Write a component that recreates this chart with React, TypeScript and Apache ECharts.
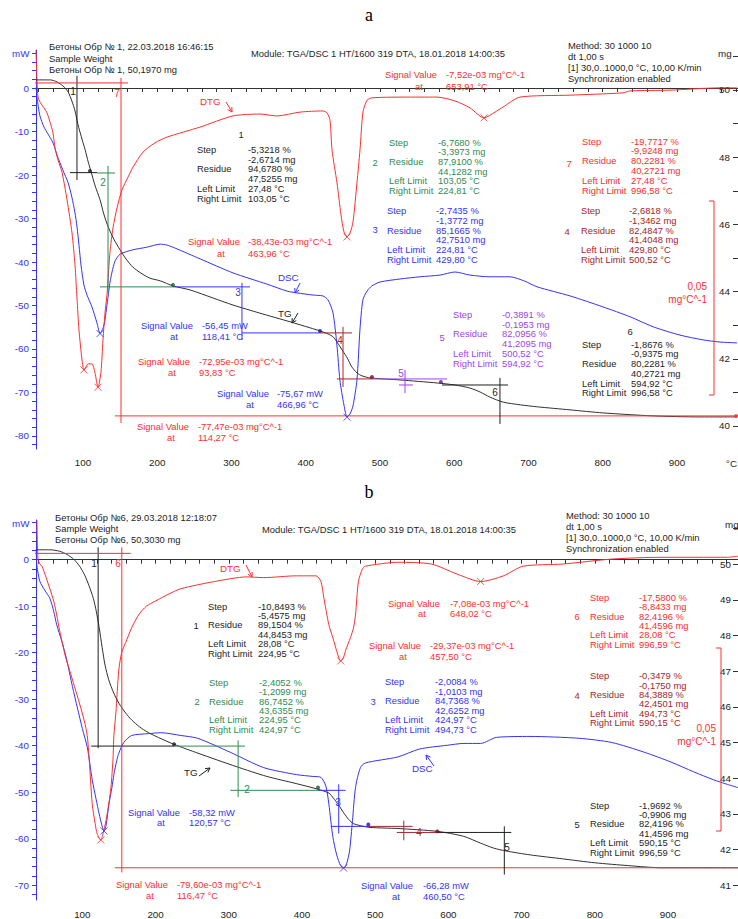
import React, { useEffect, useRef } from "react";
import * as echarts from "echarts";

type Pt = [number, number];
type Seg = [Pt, Pt];

// ---------------- DATA : panel a ----------------
const A_TG: Pt[] = [[37,50.30],[56,50.30],[65,50.24],[73,50.12],[80,49.94],[85,49.67],[89,49.40],[93,48.99],[99,48.51],[103,48.21],[107,47.86],[111,47.56],[116,47.17],[123,46.73],[128,46.31],[134,45.92],[142,45.54],[150,45.24],[158,44.97],[167,44.73],[178,44.55],[190,44.40],[204,44.32],[221,44.17],[244,44.05],[275,43.81],[302,43.60],[338,43.36],[379,43.10],[406,42.92],[419,42.83],[430,42.74],[437,42.65],[443,42.47],[450,42.23],[456,42.02],[462,41.76],[469,41.58],[476,41.49],[487,41.43],[527,41.37],[577,41.28],[601,41.22],[621,41.13],[635,41.01],[648,40.86],[666,40.71],[689,40.63],[712,40.57],[756,40.48],[800,40.39],[868,40.30],[931,40.27],[981,40.27]];
const A_DSC: Pt[] = [[37,0.2],[38,-2.1],[42,-6.4],[47.5,-9.0],[53,-10.6],[59.6,-12.6],[65,-15.4],[73,-18.9],[80,-21.8],[85,-25.1],[89,-28.5],[92,-32.0],[94.6,-36.1],[97.3,-40.7],[101.3,-45.3],[105.4,-47.6],[112,-50.3],[118.8,-54.0],[123,-56.4],[127,-55.2],[129.6,-53.3],[132.3,-49.9],[135,-46.4],[136.4,-44.6],[139.1,-42.3],[143.1,-39.8],[150,-38.2],[167,-37.2],[186,-36.6],[204,-35.9],[213,-36.1],[224,-36.8],[258,-39.3],[302,-42.5],[348,-45.1],[375,-46.7],[388,-47.1],[410,-47.6],[423,-47.8],[430,-48.7],[436.7,-51.7],[442,-59.1],[446,-67.1],[451.5,-72.9],[455.6,-75.6],[459.6,-74.9],[463.6,-73.1],[469,-67.1],[473,-55.6],[477,-48.7],[482.5,-46.7],[489,-45.5],[500,-44.6],[527,-43.9],[554,-43.4],[581,-43.0],[601,-42.3],[621,-43.0],[648,-43.4],[675,-43.4],[695,-44.4],[711.5,-45.7],[756,-47.8],[800,-50.3],[837,-52.6],[868,-54.9],[904,-56.8],[935,-57.9],[958,-58.4],[981,-58.6]];
const A_DTG: Pt[] = [[36.7,10.1],[38,2.3],[39.4,-2.1],[42.1,-3.4],[47.5,-4.9],[51.5,-6.2],[55.6,-8.6],[59.6,-11.4],[62.3,-15.3],[66.3,-18.4],[71.7,-21.6],[78.5,-28.8],[85.2,-37.4],[89.2,-45.7],[91.9,-54.3],[94.6,-62.6],[98.7,-70.4],[101.3,-73.0],[104,-72.2],[106.7,-71.4],[112.1,-71.4],[116.2,-73.8],[120.2,-77.5],[124.2,-73.5],[126.9,-65.2],[129.6,-58.2],[132.3,-53.5],[133.7,-49.6],[136.4,-42.3],[140.4,-36.1],[145.8,-30.9],[152.5,-26.2],[160.6,-22.9],[167.3,-20.3],[180.8,-16.4],[196.9,-14.0],[213.1,-12.5],[257.6,-9.9],[302,-7.0],[338.4,-6.5],[361.3,-7.0],[392.3,-6.0],[423.2,-5.7],[428.6,-6.2],[432.7,-8.1],[435.4,-15.8],[442.1,-24.4],[447.5,-32.7],[451.5,-37.1],[455.6,-38.4],[459.6,-37.4],[463.6,-34.6],[469,-24.4],[473.1,-15.8],[477.1,-6.0],[482.5,-2.9],[489.2,-2.3],[531,-2.1],[576.8,-2.1],[601,-3.1],[621.2,-4.9],[640.1,-7.5],[654.9,-6.0],[665.7,-4.7],[688.6,-2.1],[755.9,-1.6],[827.3,-1.0],[836.7,-0.5],[890.6,-0.3],[958,0.3],[981,0.3]];

const A_DSC_PEAKS: Pt[] = [[123,-56.45],[455.6,-75.67]];
const A_DTG_PEAKS: Pt[] = [[101.3,-72.95],[120.2,-77.47],[455.6,-38.43],[640.1,-7.52]];

const A_STEP1_LINES: Seg[] = [[[91.9,50.42],[91.9,47.32]],[[82.5,47.54],[118.9,47.54]]];
const A_STEP7_LINES: Seg[] = [[[24.6,50.21],[160.6,50.21]],[[151.2,50.36],[151.2,40.09]],[[143.1,40.30],[982.2,40.30]]];
const A_STEP2_LINES: Seg[] = [[[118.9,47.53],[143.1,47.53]],[[133.7,47.74],[133.7,43.96]],[[122.9,44.14],[221.2,44.14]]];
const A_STEP3_LINES: Seg[] = [[[221.2,44.14],[324.9,44.14]],[[314.1,44.26],[314.1,42.56]],[[314.1,42.77],[419.2,42.77]]];
const A_STEP4_LINES: Seg[] = [[[419.2,42.77],[462.3,42.77]],[[450.2,42.95],[450.2,41.16]],[[442.1,41.40],[489.2,41.40]]];
const A_STEP5_LINES: Seg[] = [[[489.2,41.40],[590.2,41.40]],[[533.7,41.67],[533.7,40.98]],[[525.6,41.22],[544.4,41.22]]];
const A_STEP6_LINES: Seg[] = [[[583.5,41.22],[672.4,41.22]],[[661.6,41.43],[661.6,40.06]]];
const A_STEP_DOTS: Pt[] = [[109.4,47.59],[221.2,44.20],[419.2,42.83],[489.2,41.46],[582,41.31],[979.5,40.30]];

const A_STEP1_VALUES = ["-5,3218 %","-2,6714 mg","94,6780 %","47,5255 mg","27,48 °C","103,05 °C"];
const A_STEP2_VALUES = ["-6,7680 %","-3,3973 mg","87,9100 %","44,1282 mg","103,05 °C","224,81 °C"];
const A_STEP3_VALUES = ["-2,7435 %","-1,3772 mg","85,1665 %","42,7510 mg","224,81 °C","429,80 °C"];
const A_STEP7_VALUES = ["-19,7717 %","-9,9248 mg","80,2281 %","40,2721 mg","27,48 °C","996,58 °C"];
const A_STEP4_VALUES = ["-2,6818 %","-1,3462 mg","82,4847 %","41,4048 mg","429,80 °C","500,52 °C"];
const A_STEP5_VALUES = ["-0,3891 %","-0,1953 mg","82,0956 %","41,2095 mg","500,52 °C","594,92 °C"];
const A_STEP6_VALUES = ["-1,8676 %","-0,9375 mg","80,2281 %","40,2721 mg","594,92 °C","996,58 °C"];

const A_SIGNALS = [
  ["-7,52e-03 mg°C^-1","653,91 °C"],
  ["-38,43e-03 mg°C^-1","463,96 °C"],
  ["-56,45 mW","118,41 °C"],
  ["-72,95e-03 mg°C^-1","93,83 °C"],
  ["-75,67 mW","466,96 °C"],
  ["-77,47e-03 mg°C^-1","114,27 °C"],
];
const A_HEADER = ["Бетоны Обр № 1, 22.03.2018 16:46:15","Sample Weight","Бетоны Обр № 1, 50,1970 mg"];

// ---------------- DATA : panel b ----------------
const B_TG: Pt[] = [[37,50.40],[56,50.40],[69,50.36],[79,50.27],[88,50.14],[96,49.95],[103,49.70],[109,49.40],[115,49.04],[119,48.68],[123,48.22],[127,47.67],[131,47.17],[136,46.76],[143,46.38],[150,46.10],[159,45.83],[167,45.64],[178,45.44],[190,45.28],[204,45.14],[225,44.95],[258,44.70],[311,44.32],[352,44.05],[392,43.85],[422,43.69],[437,43.58],[443,43.44],[450,43.25],[457,43.03],[464,42.84],[470,42.73],[480,42.67],[493,42.62],[531,42.59],[585,42.51],[621,42.37],[644,42.18],[662,42.04],[679,41.96],[712,41.85],[756,41.74],[800,41.63],[846,41.55],[891,41.49],[981,41.49],[996,41.49]];
const B_DSC: Pt[] = [[37,2.2],[38,-1.4],[42.1,-4.7],[48.8,-6.6],[55.6,-8.3],[60.9,-11.1],[65,-14.0],[71.7,-17.4],[78.5,-21.4],[86.5,-27.3],[93.3,-31.9],[100,-36.3],[106.7,-40.3],[113.5,-47.3],[118.8,-51.5],[122.9,-54.6],[126.9,-57.2],[129.6,-58.3],[132.3,-57.2],[136.4,-52.5],[140.4,-49.0],[143.1,-46.2],[147.1,-43.1],[149.8,-41.6],[156.6,-39.3],[167.3,-37.8],[190.2,-37.4],[207.7,-37.2],[234.7,-37.8],[257.6,-38.4],[302,-41.4],[347.8,-44.7],[392.3,-46.2],[415.2,-46.6],[425.9,-46.8],[432.7,-48.7],[436.7,-52.5],[442.1,-59.5],[447.5,-63.5],[452.9,-65.8],[456.9,-66.3],[460.9,-65.4],[465,-62.6],[469,-56.1],[473.1,-49.0],[479.8,-44.7],[486.5,-43.7],[531,-42.4],[560.6,-40.7],[598.3,-39.9],[621.2,-39.5],[644.1,-39.5],[665.7,-38.2],[711.5,-38.0],[778.8,-38.4],[823.2,-39.3],[867.7,-41.4],[904,-43.5],[935,-45.6],[961.9,-47.3],[981,-48.3],[995.6,-49.0]];
const B_DTG: Pt[] = [[38,10.2],[39.4,-0.8],[42.1,-2.2],[44.8,-2.8],[50.2,-5.8],[55.6,-9.1],[60.9,-12.6],[65,-16.5],[69,-20.9],[73.1,-24.7],[77.1,-28.3],[82.5,-31.9],[89.2,-36.5],[96,-41.2],[102.7,-46.2],[106.7,-50.3],[109.4,-57.1],[113.5,-69.5],[117.5,-75.0],[120.2,-77.8],[125.2,-79.6],[128.3,-77.8],[132.3,-74.2],[136.4,-69.0],[139.1,-64.8],[141.8,-57.1],[143.1,-50.3],[145.8,-44.0],[149.8,-31.9],[153.9,-26.9],[159.2,-24.2],[167.3,-20.1],[176.8,-16.5],[187.5,-14.0],[199.7,-12.6],[217.2,-10.7],[234.7,-9.1],[280.5,-7.1],[324.9,-5.8],[347.8,-6.0],[392.3,-5.5],[419.2,-5.5],[425.9,-7.1],[430,-11.8],[436.7,-19.2],[442.1,-22.8],[448.8,-27.5],[452.9,-29.4],[456.9,-28.3],[459.6,-26.4],[466.3,-22.8],[470.4,-20.1],[473.1,-16.5],[477.1,-7.1],[482.5,-3.6],[486.5,-2.8],[531,-1.7],[576.8,-2.2],[611.8,-5.0],[644.1,-7.1],[675.1,-5.5],[702,-2.8],[755.9,-2.2],[823.2,-0.8],[890.6,-0.3],[981,-0.3],[995.6,0]];

const B_DSC_PEAKS: Pt[] = [[129.6,-58.32],[456.9,-66.28]];
const B_DTG_PEAKS: Pt[] = [[125.2,-79.60],[452.9,-29.37],[644.1,-7.08]];

const B_STEP1_LINES: Seg[] = [[[121.6,50.47],[121.6,44.84]],[[112.1,44.90],[225.3,44.90]]];
const B_STEP6_LINES: Seg[] = [[[24.6,50.30],[166.0,50.30]],[[153.9,50.47],[153.9,41.36]],[[144.4,41.49],[995.6,41.49]]];
const B_STEP2_LINES: Seg[] = [[[225.3,44.90],[322.2,44.90]],[[312.8,45.06],[312.8,43.47]],[[302.0,43.66],[421.9,43.66]]];
const B_STEP3_LINES: Seg[] = [[[421.9,43.66],[459.6,43.66]],[[450.2,43.83],[450.2,42.45]],[[439.4,42.65],[490.6,42.65]]];
const B_STEP4_LINES: Seg[] = [[[490.6,42.65],[551.2,42.65]],[[539.1,42.81],[539.1,42.26]],[[529.6,42.48],[584.9,42.48]]];
const B_STEP5_LINES: Seg[] = [[[584.9,42.48],[685.9,42.48]],[[676.4,42.65],[676.4,41.30]]];
const B_STEP_DOTS: Pt[] = [[225.3,44.95],[421.9,43.74],[490.6,42.70],[584.9,42.51]];

const B_STEP1_VALUES = ["-10,8493 %","-5,4575 mg","89,1504 %","44,8453 mg","28,08 °C","224,95 °C"];
const B_STEP2_VALUES = ["-2,4052 %","-1,2099 mg","86,7452 %","43,6355 mg","224,95 °C","424,97 °C"];
const B_STEP3_VALUES = ["-2,0084 %","-1,0103 mg","84,7368 %","42,6252 mg","424,97 °C","494,73 °C"];
const B_STEP6_VALUES = ["-17,5800 %","-8,8433 mg","82,4196 %","41,4596 mg","28,08 °C","996,59 °C"];
const B_STEP4_VALUES = ["-0,3479 %","-0,1750 mg","84,3889 %","42,4501 mg","494,73 °C","590,15 °C"];
const B_STEP5_VALUES = ["-1,9692 %","-0,9906 mg","82,4196 %","41,4596 mg","590,15 °C","996,59 °C"];

const B_SIGNALS = [
  ["-7,08e-03 mg°C^-1","648,02 °C"],
  ["-29,37e-03 mg°C^-1","457,50 °C"],
  ["-58,32 mW","120,57 °C"],
  ["-79,60e-03 mg°C^-1","116,47 °C"],
  ["-66,28 mW","460,50 °C"],
];
const B_HEADER = ["Бетоны Обр №6, 29.03.2018 12:18:07","Sample Weight","Бетоны Обр №6, 50,3030 mg"];

const MODULE_TEXT = "Module: TGA/DSC 1 HT/1600 319 DTA, 18.01.2018 14:00:35";
const METHOD_TEXT = ["Method: 30 1000 10","dt 1,00 s","[1] 30,0..1000,0 °C, 10,00 K/min","Synchronization enabled"];
const STEP_ROW_LABELS = ["Step","","Residue","","Left Limit","Right Limit"];

const X_MAJOR = [100,200,300,400,500,600,700,800,900];
const A_MW_LABELS = [0,-10,-20,-30,-40,-50,-60,-70,-80];
const B_MW_LABELS = [0,-10,-20,-30,-40,-50,-60,-70];
const A_MG_LABELS = [40,42,44,46,48,50];
const B_MG_LABELS = [41,42,43,44,45,46,47,48,49,50];

// ---------------- STYLE ----------------
const FONT = '"Liberation Sans", Arial, sans-serif';
const FS = 9.4;
const COL = {
  black: "#1e1e1e",
  blue: "#3232ff",
  red: "#ff2e2e",
  green: "#2e8b52",
  dark: "#a3262b",
  purple: "#a03ff0",
  tg: "#303030",
};

function range(a: number, b: number, s: number) {
  const out: number[] = [];
  for (let v = a; v <= b + 1e-9; v += s) out.push(Math.round(v * 1000) / 1000);
  return out;
}

function txt(text: string, x: number, y: number, fill: string, align = "left", size = FS, family = FONT): any {
  return {
    type: "text",
    silent: true,
    x,
    y,
    z: 100,
    style: {
      text,
      x: 0,
      y: 0,
      fill,
      font: `${size}px ${family}`,
      align,
      verticalAlign: "middle",
      textAlign: align,
      textVerticalAlign: "middle",
    },
  };
}

function arrow(x1: number, y1: number, x2: number, y2: number, color: string): any[] {
  const ang = Math.atan2(y2 - y1, x2 - x1);
  const L = 5, w = 0.5;
  const p1 = [x2 - L * Math.cos(ang - w), y2 - L * Math.sin(ang - w)];
  const p2 = [x2 - L * Math.cos(ang + w), y2 - L * Math.sin(ang + w)];
  return [
    { type: "line", silent: true, z: 100, shape: { x1, y1, x2, y2 }, style: { stroke: color, lineWidth: 1 } },
    { type: "polyline", silent: true, z: 100, shape: { points: [p1, [x2, y2], p2] }, style: { stroke: color, fill: null, lineWidth: 1 } },
  ];
}

function block(num: string, values: string[], color: string, nx: number, ny: number, lx: number, vx: number, y0: number, dy: number): any[] {
  const els: any[] = [txt(num, nx, ny, color, "center")];
  STEP_ROW_LABELS.forEach((l, i) => { if (l) els.push(txt(l, lx, y0 + i * dy, color)); });
  values.forEach((v, i) => els.push(txt(v, vx, y0 + i * dy, color)));
  return els;
}

function signal(vals: string[], color: string, x1: number, x2: number, xat: number, y1: number, y2: number): any[] {
  return [
    txt("Signal Value", x1, y1, color),
    txt(vals[0], x2, y1, color),
    txt("at", xat, y2, color),
    txt(vals[1], x2, y2, color),
  ];
}

function scaleBar(x: number, yTop: number, yBot: number, tx: number, ty: number, color: string): any[] {
  return [
    { type: "polyline", silent: true, z: 100, shape: { points: [[x - 5, yTop], [x, yTop], [x, yBot], [x - 5, yBot]] }, style: { stroke: color, fill: null, lineWidth: 1 } },
    txt("0,05", tx, ty, color, "right", 10),
    txt("mg°C^-1", tx, ty + 13, color, "right", 10),
  ];
}

const X_MARK = "path://M0,0L10,10M10,0L0,10";

function buildPanel(gi: number, L: any, d: any) {
  const xAxis = {
    gridIndex: gi, type: "value", min: L.xMin, max: L.xMax,
    axisLine: { show: true, lineStyle: { color: "#333", width: 1 } },
    axisTick: { show: true, customValues: range(40, 1000, 20), length: 4, lineStyle: { color: "#333" } },
    axisLabel: { show: true, customValues: X_MAJOR, margin: L.xLabelMargin, color: "#222", fontSize: 9.8, fontFamily: FONT },
    splitLine: { show: false },
  };
  const yi = gi * 3;
  const yAxes = [
    {
      gridIndex: gi, type: "value", position: "left", min: L.mw[0], max: L.mw[1],
      axisLine: { show: true, lineStyle: { color: COL.blue, width: 1 } },
      axisTick: { show: true, customValues: range(Math.ceil(L.mw[0] / 2) * 2, L.mw[1], 2), length: 4, lineStyle: { color: COL.blue } },
      axisLabel: { show: true, customValues: d.mwLabels, margin: 7, color: COL.blue, fontSize: 9.8, fontFamily: FONT },
      splitLine: { show: false },
    },
    {
      gridIndex: gi, type: "value", position: "right", min: L.mg[0], max: L.mg[1],
      axisLine: { show: false },
      axisTick: { show: true, inside: true, customValues: range(Math.ceil(L.mg[0]), L.mg[1], 1), length: 5, lineStyle: { color: "#333" } },
      axisLabel: { show: true, inside: true, customValues: d.mgLabels, margin: L.mgLabelMargin, color: "#222", fontSize: 9.8, fontFamily: FONT },
      splitLine: { show: false },
    },
    { gridIndex: gi, type: "value", show: false, min: L.dtg[0], max: L.dtg[1], splitLine: { show: false } },
  ];
  const curve = (data: Pt[], yIdx: number, color: string, z = 3) => ({
    type: "line", xAxisIndex: gi, yAxisIndex: yi + yIdx, data, showSymbol: false, symbol: "none",
    smooth: 0.25, lineStyle: { color, width: 1 }, z, silent: true,
  });
  const series: any[] = [
    curve(d.dsc, 0, COL.blue),
    curve(d.dtg, 2, COL.red),
    curve(d.tg, 1, COL.tg, 4),
  ];
  d.steps.forEach((st: any) => {
    st.lines.forEach((seg: Seg) => {
      series.push({
        type: "line", xAxisIndex: gi, yAxisIndex: yi + 1, data: seg, showSymbol: false, symbol: "none",
        lineStyle: { color: st.color, width: 1 }, clip: false, z: 5, silent: true,
      });
    });
  });
  series.push({
    type: "scatter", xAxisIndex: gi, yAxisIndex: yi + 1, symbol: "circle", symbolSize: 4, z: 6, silent: true,
    data: d.dots.map((p: Pt, i: number) => ({ value: p, itemStyle: { color: d.dotColors[i] } })),
  });
  series.push({
    type: "scatter", xAxisIndex: gi, yAxisIndex: yi, symbol: X_MARK, symbolSize: 7, z: 7, silent: true, data: d.dscPeaks,
    itemStyle: { color: "rgba(0,0,0,0)", borderColor: COL.blue, borderWidth: 1 },
  });
  series.push({
    type: "scatter", xAxisIndex: gi, yAxisIndex: yi + 2, symbol: X_MARK, symbolSize: 7, z: 7, silent: true, data: d.dtgPeaks,
    itemStyle: { color: "rgba(0,0,0,0)", borderColor: COL.red, borderWidth: 1 },
  });
  const grid = { left: L.left, top: L.top, width: L.width, height: L.height, containLabel: false };
  return { grid, xAxis, yAxes, series };
}

const LAYOUT_A = { left: 36, top: 50, width: 702, height: 399, xMin: 36.7, xMax: 982.2, mw: [-82.99, 8.74], mg: [39.315, 51.19], dtg: [-93.51, 10.13], xLabelMargin: 8, mgLabelMargin: 8 };
const LAYOUT_B = { left: 36, top: 520, width: 712, height: 388, xMin: 36.7, xMax: 995.6, mw: [-73.16, 8.53], mg: [40.587, 51.235], dtg: [-96.43, 10.16], xLabelMargin: 9, mgLabelMargin: 7 };

export default function App() {
  const ref = useRef<HTMLDivElement>(null);
  useEffect(() => {
    if (!ref.current) return;
    const chart = echarts.init(ref.current, null, { renderer: "svg" });

    const pa = buildPanel(0, LAYOUT_A, {
      tg: A_TG, dsc: A_DSC, dtg: A_DTG, mwLabels: A_MW_LABELS, mgLabels: A_MG_LABELS,
      dscPeaks: A_DSC_PEAKS, dtgPeaks: A_DTG_PEAKS,
      dots: A_STEP_DOTS, dotColors: [COL.black, "#1d5a2e", "#1a1a9a", "#7a1010", "#5a1a9a", COL.red],
      steps: [
        { lines: A_STEP1_LINES, color: COL.black },
        { lines: A_STEP7_LINES, color: COL.red },
        { lines: A_STEP2_LINES, color: COL.green },
        { lines: A_STEP3_LINES, color: COL.blue },
        { lines: A_STEP4_LINES, color: COL.dark },
        { lines: A_STEP5_LINES, color: COL.purple },
        { lines: A_STEP6_LINES, color: COL.black },
      ],
    });
    const pb = buildPanel(1, LAYOUT_B, {
      tg: B_TG, dsc: B_DSC, dtg: B_DTG, mwLabels: B_MW_LABELS, mgLabels: B_MG_LABELS,
      dscPeaks: B_DSC_PEAKS, dtgPeaks: B_DTG_PEAKS,
      dots: B_STEP_DOTS, dotColors: [COL.black, "#1d5a2e", "#1a1a9a", "#7a1010"],
      steps: [
        { lines: B_STEP1_LINES, color: COL.black },
        { lines: B_STEP6_LINES, color: COL.red },
        { lines: B_STEP2_LINES, color: COL.green },
        { lines: B_STEP3_LINES, color: COL.blue },
        { lines: B_STEP4_LINES, color: COL.dark },
        { lines: B_STEP5_LINES, color: COL.black },
      ],
    });

    const g: any[] = [];
    // titles
    g.push(txt("a", 369, 15, "#000", "center", 18, '"Liberation Serif", serif'));
    g.push(txt("b", 369, 492, "#000", "center", 18, '"Liberation Serif", serif'));
    // headers a
    A_HEADER.forEach((t, i) => g.push(txt(t, 49, 46.7 + i * 11.5, COL.black)));
    g.push(txt(MODULE_TEXT, 251, 53.3, COL.black));
    METHOD_TEXT.forEach((t, i) => g.push(txt(t, 568, 45 + i * 11.1, COL.black)));
    g.push(txt("mW", 12, 53.3, COL.blue, "left", 9.8));
    g.push(txt("mg", 718, 53.3, COL.black, "left", 9.8));
    g.push(txt("°C", 737, 463, COL.black, "right", 9.8));
    // headers b
    B_HEADER.forEach((t, i) => g.push(txt(t, 55, 517.3 + i * 11.3, COL.black)));
    g.push(txt(MODULE_TEXT, 262, 529.3, COL.black));
    METHOD_TEXT.forEach((t, i) => g.push(txt(t, 566, 515 + i * 11, COL.black)));
    g.push(txt("mW", 12, 523, COL.blue, "left", 9.8));
    g.push(txt("mg", 725, 524, COL.black, "left", 9.8));

    // step blocks a
    g.push(...block("1", A_STEP1_VALUES, COL.black, 241, 134, 197, 248, 149.5, 9.7));
    g.push(...block("2", A_STEP2_VALUES, COL.green, 375, 162, 389, 438, 142, 9.7));
    g.push(...block("3", A_STEP3_VALUES, COL.blue, 375, 229, 387, 436, 210.7, 9.7));
    g.push(...block("7", A_STEP7_VALUES, COL.red, 569, 163, 582, 631, 141, 9.85));
    g.push(...block("4", A_STEP4_VALUES, COL.dark, 567, 231, 581, 629, 210.7, 9.7));
    g.push(...block("5", A_STEP5_VALUES, COL.purple, 442, 337, 453, 502, 314.3, 9.8));
    g.push(...block("6", A_STEP6_VALUES, COL.black, 630, 331, 582, 631, 344, 9.75));
    // step blocks b
    g.push(...block("1", B_STEP1_VALUES, COL.black, 196, 625, 208, 258, 606, 9.46));
    g.push(...block("2", B_STEP2_VALUES, COL.green, 197, 701, 209, 259, 682.3, 9.4));
    g.push(...block("3", B_STEP3_VALUES, COL.blue, 373, 701, 385, 435, 681.7, 9.46));
    g.push(...block("6", B_STEP6_VALUES, COL.red, 577, 616, 590, 639, 597.3, 9.4));
    g.push(...block("4", B_STEP4_VALUES, COL.dark, 577, 695, 590, 639, 675.7, 9.4));
    g.push(...block("5", B_STEP5_VALUES, COL.black, 577, 824, 590, 639, 805, 9.46));

    // signals a
    g.push(...signal(A_SIGNALS[0], COL.red, 385, 446, 415, 74.3, 86));
    g.push(...signal(A_SIGNALS[1], COL.red, 188, 248, 217, 241, 253));
    g.push(...signal(A_SIGNALS[2], COL.blue, 141, 202, 170, 325, 336));
    g.push(...signal(A_SIGNALS[3], COL.red, 138, 199, 168, 361, 372));
    g.push(...signal(A_SIGNALS[4], COL.blue, 217, 277, 246, 393, 404));
    g.push(...signal(A_SIGNALS[5], COL.red, 137, 198, 167, 426, 437));
    // signals b
    g.push(...signal(B_SIGNALS[0], COL.red, 388, 450, 418, 603, 613.5));
    g.push(...signal(B_SIGNALS[1], COL.red, 369, 430, 399, 645.7, 656));
    g.push(...signal(B_SIGNALS[2], COL.blue, 128, 189, 157, 812, 822.5));
    g.push(...signal(B_SIGNALS[3], COL.red, 116, 177, 146, 884.5, 895));
    g.push(...signal(B_SIGNALS[4], COL.blue, 361, 423, 392, 885, 896));

    // step numbers on plot a
    g.push(txt("1", 73, 91, COL.black, "center", 10));
    g.push(txt("7", 117, 93, COL.red, "center", 10));
    g.push(txt("2", 103, 182, COL.green, "center", 10));
    g.push(txt("3", 238, 292, COL.blue, "center", 10));
    g.push(txt("4", 340, 340, COL.dark, "center", 10));
    g.push(txt("5", 401, 373, COL.purple, "center", 10));
    g.push(txt("6", 495, 392, COL.black, "center", 10));
    // step numbers on plot b
    g.push(txt("1", 94, 563, COL.black, "center", 10));
    g.push(txt("6", 118, 563, COL.red, "center", 10));
    g.push(txt("2", 247, 789, COL.green, "center", 10));
    g.push(txt("3", 338, 802, COL.blue, "center", 10));
    g.push(txt("4", 419, 832, COL.dark, "center", 10));
    g.push(txt("5", 507, 847, COL.black, "center", 10));

    // curve labels a
    g.push(txt("DTG", 200, 101, COL.red, "left", 9.8));
    g.push(...arrow(226, 102, 232, 112, COL.red));
    g.push(txt("DSC", 278, 277, COL.blue, "left", 9.8));
    g.push(...arrow(300, 283, 295, 293, COL.blue));
    g.push(txt("TG", 278, 313, COL.black, "left", 9.8));
    g.push(...arrow(298, 313, 292, 323, COL.black));
    // curve labels b
    g.push(txt("DTG", 220, 568, COL.red, "left", 9.8));
    g.push(...arrow(246, 565, 252, 577, COL.red));
    g.push(txt("DSC", 412, 768, COL.blue, "left", 9.8));
    g.push(...arrow(434, 766, 426, 755, COL.blue));
    g.push(txt("TG", 184, 772, COL.black, "left", 9.8));
    g.push(...arrow(199, 776, 210, 768, COL.black));

    // scale bars
    g.push(...scaleBar(714, 201, 395, 707, 286, COL.red));
    g.push(...scaleBar(721, 648, 831, 716, 728, COL.red));

    const option: any = {
      animation: false,
      backgroundColor: "#ffffff",
      textStyle: { fontFamily: FONT },
      grid: [pa.grid, pb.grid],
      xAxis: [pa.xAxis, pb.xAxis],
      yAxis: [...pa.yAxes, ...pb.yAxes],
      series: [...pa.series, ...pb.series],
      graphic: { elements: g },
    };
    chart.setOption(option);
    return () => chart.dispose();
  }, []);
  return (
    <div
      ref={ref}
      style={{ position: "fixed", left: 0, top: 0, width: 738, height: 919, background: "#fff" }}
    />
  );
}
